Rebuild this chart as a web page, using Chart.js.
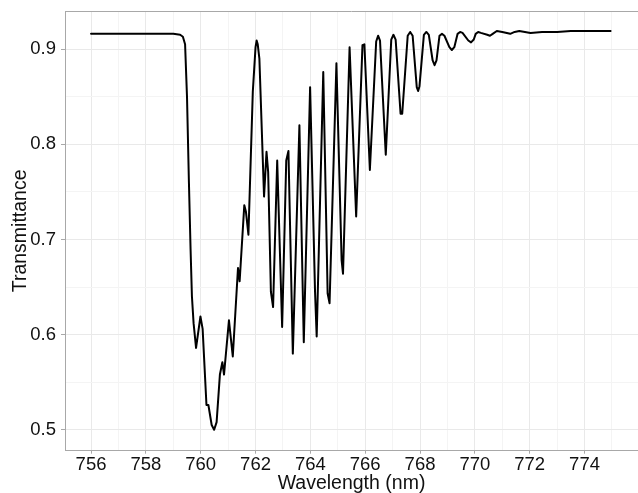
<!DOCTYPE html>
<html><head><meta charset="utf-8">
<script src="https://cdn.jsdelivr.net/npm/chart.js@4"></script>
<style>html,body{margin:0;padding:0;background:#fff}#wrap{width:638px;height:493px;overflow:hidden}</style>
</head><body><div id="wrap"><canvas id="c" width="638" height="493"></canvas></div>
<script>
const wavelength = [
  756.00, 756.50, 757.00, 757.50, 758.00, 758.50, 759.00, 759.25, 759.35, 759.43,
  759.50, 759.57, 759.63, 759.68, 759.74, 759.83, 759.99, 760.07, 760.21, 760.28,
  760.40, 760.49, 760.58, 760.70, 760.79, 760.85, 761.03, 761.17, 761.36, 761.42,
  761.59, 761.65, 761.74, 761.90, 762.00, 762.04, 762.08, 762.14, 762.25, 762.31,
  762.40, 762.46, 762.56, 762.64, 762.79, 762.97, 763.12, 763.20, 763.36, 763.60,
  763.76, 763.99, 764.17, 764.23, 764.47, 764.63, 764.70, 764.95, 765.14, 765.19,
  765.43, 765.67, 765.90, 765.97, 766.17, 766.40, 766.47, 766.54, 766.75, 766.95,
  767.03, 767.11, 767.29, 767.35, 767.55, 767.64, 767.73, 767.88, 767.93, 767.98,
  768.14, 768.23, 768.32, 768.46, 768.53, 768.60, 768.71, 768.80, 768.89, 769.07,
  769.16, 769.25, 769.37, 769.46, 769.55, 769.76, 769.86, 769.96, 770.03, 770.12,
  770.22, 770.45, 770.55, 770.65, 770.80, 771.00, 771.29, 771.45, 771.62, 772.03,
  772.45, 773.00, 773.50, 774.00, 774.50, 774.95
];
const transmittance = [
  0.916, 0.916, 0.916, 0.916, 0.916, 0.916, 0.916, 0.915, 0.913, 0.905,
  0.850, 0.760, 0.690, 0.640, 0.612, 0.586, 0.619, 0.606, 0.526, 0.526,
  0.505, 0.500, 0.508, 0.558, 0.571, 0.558, 0.615, 0.577, 0.670, 0.656,
  0.736, 0.729, 0.705, 0.855, 0.902, 0.909, 0.905, 0.890, 0.796, 0.745,
  0.792, 0.771, 0.645, 0.629, 0.783, 0.608, 0.783, 0.793, 0.580, 0.820,
  0.592, 0.860, 0.645, 0.598, 0.876, 0.643, 0.633, 0.885, 0.678, 0.664,
  0.902, 0.724, 0.904, 0.905, 0.773, 0.908, 0.914, 0.909, 0.789, 0.910,
  0.915, 0.910, 0.832, 0.832, 0.914, 0.918, 0.914, 0.860, 0.856, 0.861,
  0.915, 0.918, 0.915, 0.888, 0.883, 0.888, 0.914, 0.916, 0.914, 0.902,
  0.899, 0.902, 0.916, 0.918, 0.917, 0.909, 0.907, 0.910, 0.916, 0.918,
  0.917, 0.915, 0.914, 0.916, 0.919, 0.918, 0.916, 0.918, 0.919, 0.917,
  0.918, 0.918, 0.919, 0.919, 0.919, 0.919
];
const xMajorTicks = [756, 758, 760, 762, 764, 766, 768, 770, 772, 774];
const xMinorTicks = [757, 759, 761, 763, 765, 767, 769, 771, 773, 775];
const yMajorTicks = [0.5, 0.6, 0.7, 0.8, 0.9];
const yMinorTicks = [0.55, 0.65, 0.75, 0.85];
const xLimits = [755.05, 775.95];
const yLimits = [0.478, 0.940];

const MAJOR = '#e9e9e9', MINOR = '#f4f4f4', FRAME = '#a8a8a8', TEXT = '#111111';
const isIn = (arr, v) => arr.some(m => Math.abs(m - v) < 1e-9);

const topBorder = {
  id: 'topBorder',
  afterDraw(chart) {
    const {ctx, chartArea: a} = chart;
    ctx.save();
    ctx.strokeStyle = FRAME; ctx.lineWidth = 1;
    ctx.beginPath(); ctx.moveTo(a.left, a.top + 0.5); ctx.lineTo(a.right, a.top + 0.5); ctx.stroke();
    ctx.restore();
  }
};

new Chart(document.getElementById('c'), {
  type: 'line',
  data: {
    datasets: [{
      data: wavelength.map((w, i) => ({x: w, y: transmittance[i]})),
      borderColor: '#000000',
      borderWidth: 2,
      borderJoinStyle: 'round',
      borderCapStyle: 'round',
      pointRadius: 0,
      fill: false,
      tension: 0
    }]
  },
  options: {
    responsive: false,
    animation: false,
    devicePixelRatio: 1,
    layout: {padding: {top: 11, right: -10, bottom: 0, left: 0}},
    plugins: {legend: {display: false}, tooltip: {enabled: false}},
    scales: {
      x: {
        type: 'linear', min: xLimits[0], max: xLimits[1],
        afterBuildTicks: s => { s.ticks = [...xMajorTicks, ...xMinorTicks].sort((a, b) => a - b).map(v => ({value: v})); },
        afterFit: s => { s.height = 42.3; s.paddingLeft = 0; s.paddingRight = 0; },
        grid: {
          color: c => (c.tick && isIn(xMajorTicks, c.tick.value)) ? MAJOR : MINOR,
          tickColor: c => (c.tick && isIn(xMajorTicks, c.tick.value)) ? FRAME : 'rgba(0,0,0,0)',
          tickLength: 3, lineWidth: 1
        },
        border: {color: FRAME, width: 1},
        ticks: {
          autoSkip: false, maxRotation: 0, padding: 2,
          color: TEXT, font: {family: 'Liberation Sans, Arial, sans-serif', size: 18.5, lineHeight: 1},
          callback: v => isIn(xMajorTicks, v) ? String(v) : ''
        },
        title: {display: true, text: 'Wavelength (nm)', color: TEXT,
          font: {family: 'Liberation Sans, Arial, sans-serif', size: 19.5, lineHeight: 1.2}, padding: {top: 0, bottom: -2}}
      },
      y: {
        type: 'linear', min: yLimits[0], max: yLimits[1],
        afterBuildTicks: s => { s.ticks = [...yMajorTicks, ...yMinorTicks].sort((a, b) => a - b).map(v => ({value: v})); },
        afterFit: s => { s.width = 65; s.paddingTop = 0; s.paddingBottom = 0; },
        grid: {
          color: c => (c.tick && isIn(yMajorTicks, c.tick.value)) ? MAJOR : MINOR,
          tickColor: c => (c.tick && isIn(yMajorTicks, c.tick.value)) ? FRAME : 'rgba(0,0,0,0)',
          tickLength: 4, lineWidth: 1
        },
        border: {color: FRAME, width: 1},
        ticks: {
          autoSkip: false, padding: 5,
          color: TEXT, font: {family: 'Liberation Sans, Arial, sans-serif', size: 18.5},
          callback: v => isIn(yMajorTicks, v) ? v.toFixed(1) : ''
        },
        title: {display: true, text: 'Transmittance', color: TEXT,
          font: {family: 'Liberation Sans, Arial, sans-serif', size: 19.5, lineHeight: 1.2}, padding: {top: 9, bottom: 0}}
      }
    }
  },
  plugins: [topBorder]
});
</script>
</body></html>
